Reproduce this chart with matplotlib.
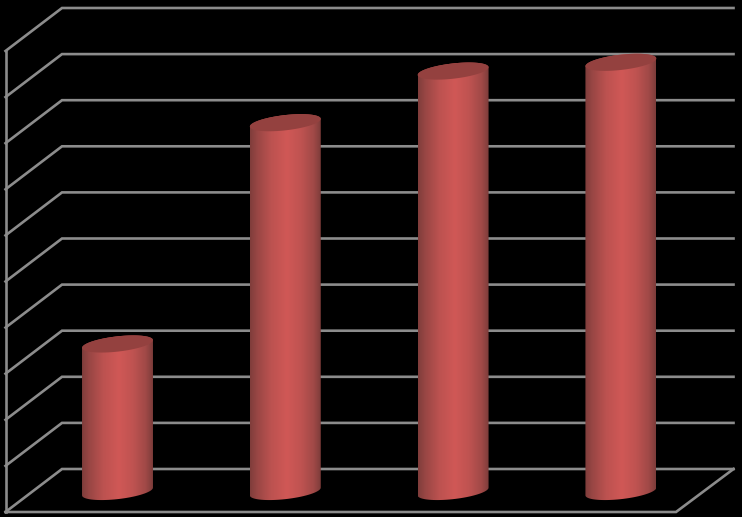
import numpy as np
import matplotlib
matplotlib.use('Agg')
import matplotlib.pyplot as plt
from matplotlib.colors import LinearSegmentedColormap
from matplotlib.path import Path
from matplotlib.patches import PathPatch

# values, the chart has no labels
categories = [0, 1, 2, 3]
values = [3.2, 8.0, 9.12, 9.31]
grid_levels = list(range(0, 11))

# pixels per data unit
PX_X = 167.8
PX_Y = 46.1
GRID = '#8c8c8c'
LW = 1.9

fig = plt.figure(figsize=(7.42, 5.17), dpi=100, facecolor='black')
ax = fig.add_axes([0, 0, 1, 1], facecolor='black')

# offsets of the fake 3d box, in data units
wall_l = (5.5 - 117.5) / PX_X
wall_r = (62 - 117.5) / PX_X
back_r = (733.5 - 117.5) / PX_X
front_r = (676 - 117.5) / PX_X
depth = 43 / PX_Y

for lev in grid_levels:
    ax.plot([wall_l, wall_r, back_r], [lev - depth, lev, lev], color=GRID, lw=LW,
            solid_joinstyle='miter', zorder=1)
ax.plot([wall_l, wall_l], [-depth, 10 - depth], color=GRID, lw=LW, zorder=1)
ax.plot([wall_l, front_r, back_r], [-depth, -depth, 0], color=GRID, lw=LW,
        solid_joinstyle='miter', zorder=1)

cyl = LinearSegmentedColormap.from_list('cyl', [
    (0.0, '#7f3d3b'), (0.1, '#984644'), (0.3, '#bc5250'), (0.52, '#d05856'),
    (0.72, '#bf5351'), (0.9, '#a04947'), (1.0, '#7c3c3a')])
grad = np.linspace(0, 1, 256).reshape(1, -1)

half_w = 35.5 / PX_X
base = -22.5 / PX_Y   # bar bottom sits in front of the back wall
tilt = np.radians(6.5)
a, b = 35.7, 7.6


def ring(xc, yc, t):
    # tilted ellipse given in pixels, returned in data units
    dx = a * np.cos(t) * np.cos(tilt) - b * np.sin(t) * np.sin(tilt)
    dy = a * np.cos(t) * np.sin(tilt) + b * np.sin(t) * np.cos(tilt)
    return xc + dx / PX_X, yc + dy / PX_Y


for cat, val in zip(categories, values):
    top = base + val
    t = np.linspace(0, 2 * np.pi, 80)
    # lower half of the bottom ellipse, then back up over the top edge
    xb, yb = ring(cat, base, np.linspace(np.pi, 2 * np.pi, 40))
    xt, yt = ring(cat, top, np.linspace(0, np.pi, 40))
    verts = np.column_stack([np.r_[xb, xt], np.r_[yb, yt]])
    body = PathPatch(Path(np.vstack([verts, verts[0]]), closed=True), fc='none', ec='none')
    ax.add_patch(body)
    im = ax.imshow(grad, cmap=cyl, aspect='auto', zorder=3, interpolation='bilinear',
                   extent=[cat - half_w, cat + half_w, base - 12 / PX_Y, top + 12 / PX_Y])
    im.set_clip_path(body)
    xe, ye = ring(cat, top, t)
    ax.fill(xe, ye, color='#94413f', lw=0, zorder=4)

ax.set_xlim(-117.5 / PX_X, (742 - 117.5) / PX_X)
ax.set_ylim((469 - 517) / PX_Y, 469 / PX_Y)
ax.axis('off')

fig.savefig('out.png', dpi=100, facecolor='black')
